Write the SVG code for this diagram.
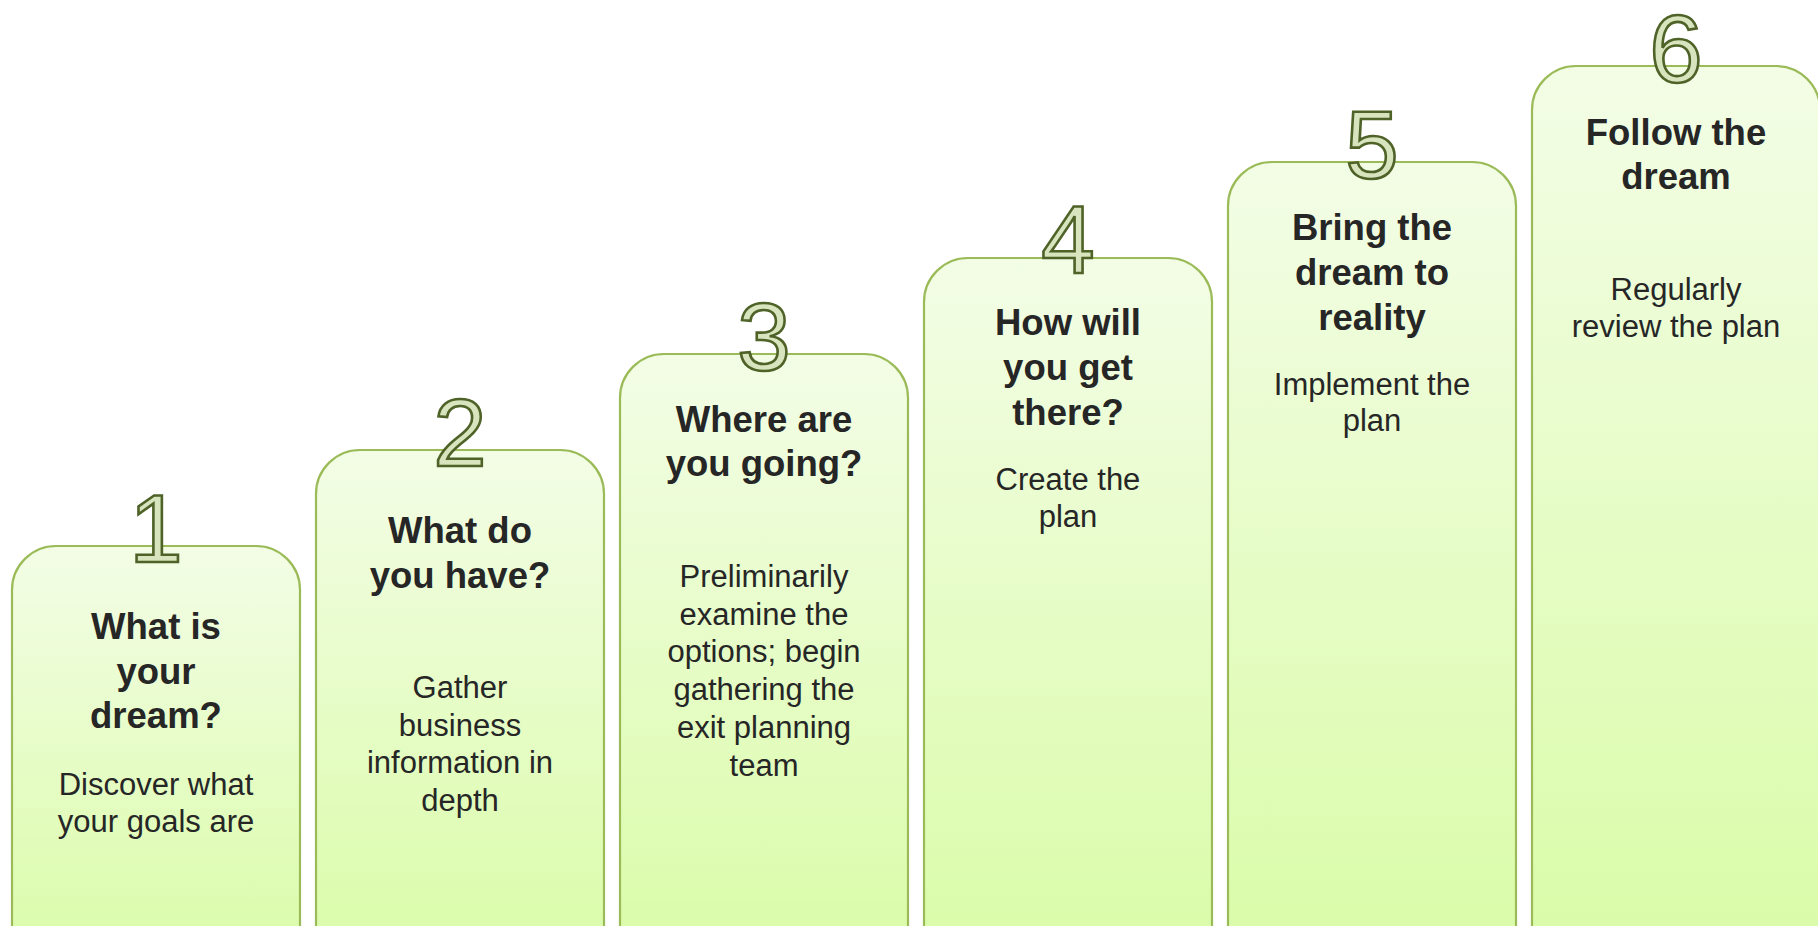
<svg xmlns="http://www.w3.org/2000/svg" width="1818" height="926" viewBox="0 0 1818 926">
<defs>
<linearGradient id="g" x1="0" y1="0" x2="0" y2="1">
<stop offset="0" stop-color="#f3fde6"/>
<stop offset="1" stop-color="#d9fca6"/>
</linearGradient>
<style>
.box{fill:url(#g);stroke:#9bbb59;stroke-width:2.2}
.num{font-family:"Liberation Sans",Arial,sans-serif;font-size:96px;fill:#d7e4bd;stroke:#4f6228;stroke-width:2.6;text-anchor:middle}
.t{font-family:"Liberation Sans",Arial,sans-serif;font-size:36.5px;font-weight:bold;fill:#262626;text-anchor:middle}
.b{font-family:"Liberation Sans",Arial,sans-serif;font-size:31px;fill:#262626;text-anchor:middle}
</style>
</defs>
<rect width="1818" height="926" fill="#ffffff"/>
<g id="connectors"></g>
<g id="step1">
<rect class="box" x="12" y="546" width="288" height="430" rx="44" ry="44"/>
<text class="num" x="156" y="562">1</text>
<text class="t" x="156" y="639">What is</text>
<text class="t" x="156" y="683.5">your</text>
<text class="t" x="156" y="728">dream?</text>
<text class="b" x="156" y="795">Discover what</text>
<text class="b" x="156" y="832">your goals are</text>
</g>
<g id="step2">
<rect class="box" x="316" y="450" width="288" height="526" rx="44" ry="44"/>
<text class="num" x="460" y="466">2</text>
<text class="t" x="460" y="543">What do</text>
<text class="t" x="460" y="588">you have?</text>
<text class="b" x="460" y="698">Gather</text>
<text class="b" x="460" y="736">business</text>
<text class="b" x="460" y="773">information in</text>
<text class="b" x="460" y="811">depth</text>
</g>
<g id="step3">
<rect class="box" x="620" y="354" width="288" height="622" rx="44" ry="44"/>
<text class="num" x="764" y="370">3</text>
<text class="t" x="764" y="432">Where are</text>
<text class="t" x="764" y="476">you going?</text>
<text class="b" x="764" y="587">Preliminarily</text>
<text class="b" x="764" y="625">examine the</text>
<text class="b" x="764" y="662">options; begin</text>
<text class="b" x="764" y="700">gathering the</text>
<text class="b" x="764" y="738">exit planning</text>
<text class="b" x="764" y="776">team</text>
</g>
<g id="step4">
<rect class="box" x="924" y="258" width="288" height="718" rx="44" ry="44"/>
<text class="num" x="1068" y="273">4</text>
<text class="t" x="1068" y="335">How will</text>
<text class="t" x="1068" y="380">you get</text>
<text class="t" x="1068" y="425">there?</text>
<text class="b" x="1068" y="490">Create the</text>
<text class="b" x="1068" y="527">plan</text>
</g>
<g id="step5">
<rect class="box" x="1228" y="162" width="288" height="814" rx="44" ry="44"/>
<text class="num" x="1372" y="178">5</text>
<text class="t" x="1372" y="240">Bring the</text>
<text class="t" x="1372" y="285">dream to</text>
<text class="t" x="1372" y="330">reality</text>
<text class="b" x="1372" y="395">Implement the</text>
<text class="b" x="1372" y="431">plan</text>
</g>
<g id="step6">
<rect class="box" x="1532" y="66" width="288" height="910" rx="44" ry="44"/>
<text class="num" x="1676" y="82">6</text>
<text class="t" x="1676" y="145">Follow the</text>
<text class="t" x="1676" y="189">dream</text>
<text class="b" x="1676" y="300">Regularly</text>
<text class="b" x="1676" y="337">review the plan</text>
</g>
</svg>
